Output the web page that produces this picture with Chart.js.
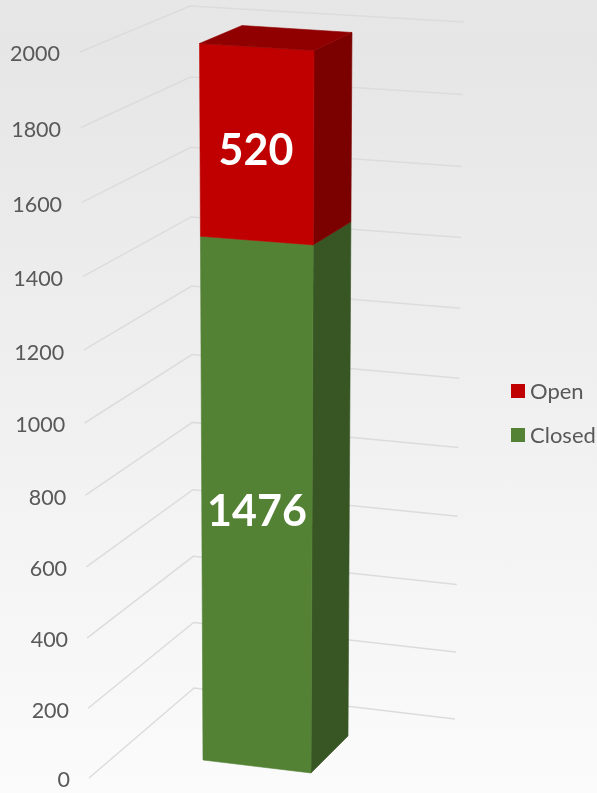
<!DOCTYPE html>
<html>
<head>
<meta charset="utf-8">
<title>Open and closed</title>
<script src="https://cdn.jsdelivr.net/npm/chart.js@4"></script>
<style>
    html, body {
        margin: 0;
        padding: 0;
        width: 597px;
        height: 793px;
        overflow: hidden;
        background: linear-gradient(to bottom, #e7e7e7 0%, #e6e6e6 6%, #fbfbfb 100%);
    }
    canvas { display: block; }
</style>
</head>
<body>
<canvas id="barChart" width="597" height="793"></canvas>
<script>
const categories = ['Total'];
const closedValues = [1476];
const openValues = [520];
const tickValues = [0, 200, 400, 600, 800, 1000, 1200, 1400, 1600, 1800, 2000];

const GREEN = '#548235';
const GREEN_SIDE = '#375623';
const RED = '#C00000';
const RED_SIDE = '#7B0000';
const RED_TOP = '#900000';
const GRID_COLOR = '#dcdcdc';
const TEXT_COLOR = '#595959';

// how much the value axis shrinks towards the bottom of the picture
const PERSPECTIVE = -0.0431;

// fraction of the axis height, 0 at the bottom and 1 at the top
function axisFraction(scale, pixel) {
    return (scale.bottom - pixel) / (scale.bottom - scale.top);
}

function mix(a, b, f) {
    return a + (b - a) * f;
}

class PerspectiveScale extends Chart.LinearScale {
    static id = 'perspective';
    static defaults = Chart.LinearScale.defaults;

    getPixelForValue(value) {
        const t = (value - this.min) / (this.max - this.min);
        const g = t * (1 + PERSPECTIVE) / (1 + PERSPECTIVE * t);
        return this.bottom + (this.top - this.bottom) * g;
    }

    _computeLabelItems(chartArea) {
        const items = super._computeLabelItems(chartArea);
        items.forEach(item => {
            const f = axisFraction(this, item.options.translation[1]);
            item.options.translation[0] = mix(70, 60, f);
            item.options.translation[1] += 1.5;
        });
        return items;
    }

    // labels sit on the slanted wall, so they must not be clipped to the axis box
    _computeLabelArea() {
        return undefined;
    }
}
Chart.register(PerspectiveScale);

// the side and back walls, drawn behind the bar
function drawWalls(ctx, scale) {
    ctx.strokeStyle = GRID_COLOR;
    ctx.lineWidth = 1.5;
    scale.ticks.forEach(tick => {
        const y = scale.getPixelForValue(tick.value);
        const f = axisFraction(scale, y);
        ctx.beginPath();
        ctx.moveTo(mix(89, 80, f), y - 1);
        ctx.lineTo(mix(194, 190, f), mix(688, 6, f));
        ctx.lineTo(mix(455, 464, f), mix(719, 22, f));
        ctx.stroke();
    });
}

function barCorners(scale, el, pixel) {
    const f = axisFraction(scale, pixel);
    const half = el.width / 2;
    return {
        frontLeft: [el.x - half - 3.5 * f, pixel - 19 + 8 * f],
        frontRight: [el.x + half + 3 * f, pixel - 6 + 2 * f],
        backRight: [el.x + half + 37 + 4 * f, pixel - 43 + 21 * f],
        backLeft: [el.x - 15 * f, pixel - 29]
    };
}

function fillFace(ctx, color, points) {
    ctx.fillStyle = color;
    ctx.strokeStyle = color;
    ctx.lineWidth = 0.6; // closes the light seam between faces
    ctx.beginPath();
    points.forEach((p, i) => i ? ctx.lineTo(p[0], p[1]) : ctx.moveTo(p[0], p[1]));
    ctx.closePath();
    ctx.fill();
    ctx.stroke();
}

function drawSegment(ctx, scale, el, front, side) {
    const low = barCorners(scale, el, el.base);
    const high = barCorners(scale, el, el.y);
    fillFace(ctx, side, [low.frontRight, low.backRight, high.backRight, high.frontRight]);
    fillFace(ctx, front, [low.frontLeft, low.frontRight, high.frontRight, high.frontLeft]);
}

// the built-in legend keeps a gap of half a font size after the box, too wide here
function drawLegend(ctx, chart) {
    const datasets = chart.data.datasets.slice().reverse();
    ctx.font = '22px Lato';
    ctx.textAlign = 'left';
    ctx.textBaseline = 'middle';
    datasets.forEach((dataset, i) => {
        const y = 391 + i * 44;
        ctx.fillStyle = dataset.backgroundColor;
        ctx.fillRect(511, y - 7, 14, 14);
        ctx.fillStyle = TEXT_COLOR;
        ctx.fillText(dataset.label, 530, y + 1);
    });
}

const bar3dPlugin = {
    id: 'bar3d',
    beforeDatasetsDraw(chart) {
        const ctx = chart.ctx;
        const scale = chart.scales.y;
        const closedBar = chart.getDatasetMeta(0).data[0];
        const openBar = chart.getDatasetMeta(1).data[0];

        ctx.save();
        drawWalls(ctx, scale);
        drawSegment(ctx, scale, closedBar, GREEN, GREEN_SIDE);
        drawSegment(ctx, scale, openBar, RED, RED_SIDE);

        const top = barCorners(scale, openBar, openBar.y);
        fillFace(ctx, RED_TOP, [top.frontLeft, top.frontRight, top.backRight, top.backLeft]);

        ctx.fillStyle = '#ffffff';
        ctx.font = 'bold 43px Lato';
        ctx.textAlign = 'center';
        ctx.textBaseline = 'middle';
        ctx.fillText(closedValues[0], closedBar.x, (closedBar.y + closedBar.base) / 2 - 2);
        ctx.fillText(openValues[0], openBar.x - 1, (openBar.y + openBar.base) / 2 - 1);

        drawLegend(ctx, chart);
        ctx.restore();

        return false;
    }
};

new Chart(document.getElementById('barChart').getContext('2d'), {
    type: 'bar',
    data: {
        labels: categories,
        datasets: [
            { label: 'Closed', data: closedValues, backgroundColor: GREEN, barThickness: 108 },
            { label: 'Open', data: openValues, backgroundColor: RED, barThickness: 108 }
        ]
    },
    options: {
        responsive: false,
        animation: false,
        layout: {
            padding: { top: 53, bottom: 14, right: 100 }
        },
        plugins: {
            tooltip: { enabled: false },
            legend: { display: false }
        },
        scales: {
            x: { stacked: true, display: false },
            y: {
                type: 'perspective',
                stacked: true,
                min: tickValues[0],
                max: tickValues[tickValues.length - 1],
                afterBuildTicks: axis => {
                    axis.ticks = tickValues.map(value => ({ value: value }));
                },
                afterFit: axis => {
                    axis.width = 17;
                    axis.paddingTop = 0;
                    axis.paddingBottom = 0;
                },
                grid: { display: false },
                border: { display: false },
                ticks: {
                    color: TEXT_COLOR,
                    autoSkip: false,
                    font: { family: 'Lato', size: 21.5 },
                    callback: value => String(value)
                }
            }
        }
    },
    plugins: [bar3dPlugin]
});
</script>
</body>
</html>
